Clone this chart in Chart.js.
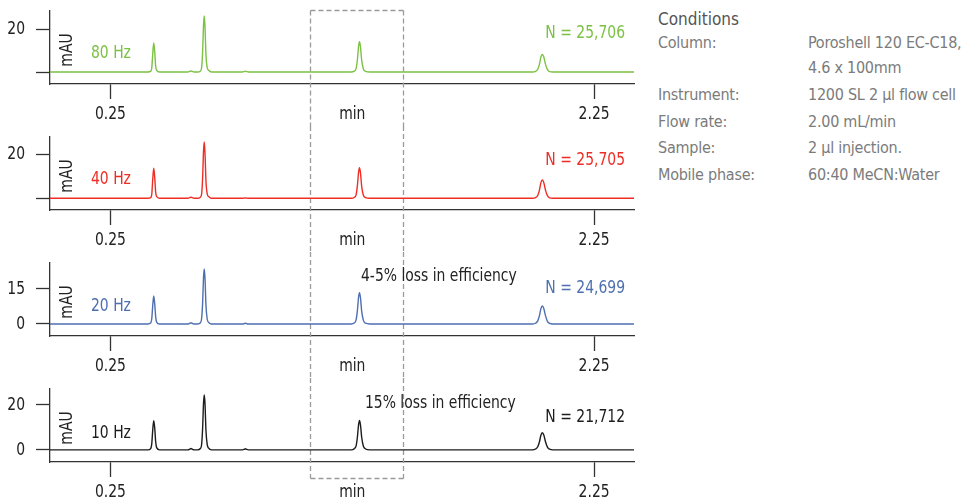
<!DOCTYPE html>
<html>
<head>
<meta charset="utf-8">
<title>Chromatograms at different data rates</title>
<script src="https://cdn.jsdelivr.net/npm/chart.js@4.4.1/dist/chart.umd.min.js"></script>
<style>
  html, body { margin: 0; padding: 0; background: #fff; width: 964px; height: 501px; overflow: hidden; }
  canvas.panel { position: absolute; left: 0; }
  .cond { position: absolute; font-family: 'DejaVu Sans Condensed', 'DejaVu Sans', sans-serif;
          font-size: 16px; line-height: 20px; color: #7b7b7b; white-space: nowrap; letter-spacing: -0.25px; }
  .cond.head { color: #555; font-size: 17px; letter-spacing: 0; }
</style>
</head>
<body>
<canvas id="p80" class="panel" width="640" height="126" style="top:0px"></canvas>
<canvas id="p40" class="panel" width="640" height="126" style="top:126px"></canvas>
<canvas id="p20" class="panel" width="640" height="126" style="top:252px"></canvas>
<canvas id="p10" class="panel" width="640" height="126" style="top:378px"></canvas>

<div class="cond head" style="left:658px;top:9px">Conditions</div>
<div class="cond" style="left:658px;top:33px">Column:</div>
<div class="cond" style="left:808px;top:33px">Poroshell 120 EC-C18,</div>
<div class="cond" style="left:808px;top:58px">4.6 x 100mm</div>
<div class="cond" style="left:658px;top:85px">Instrument:</div>
<div class="cond" style="left:808px;top:85px">1200 SL 2 µl flow cell</div>
<div class="cond" style="left:658px;top:112px">Flow rate:</div>
<div class="cond" style="left:808px;top:112px">2.00 mL/min</div>
<div class="cond" style="left:658px;top:138px">Sample:</div>
<div class="cond" style="left:808px;top:138px">2 µl injection.</div>
<div class="cond" style="left:658px;top:165px">Mobile phase:</div>
<div class="cond" style="left:808px;top:165px">60:40 MeCN:Water</div>

<script>
// Retention time grid (min) shared by all four traces
const minutes = [
  0.000,
  0.405, 0.417, 0.421, 0.425, 0.429, 0.433, 0.437, 0.441, 0.453,
  0.570, 0.578, 0.583, 0.588, 0.596,
  0.610, 0.622, 0.627, 0.631, 0.635, 0.638, 0.641, 0.645, 0.650, 0.656, 0.668,
  0.795, 0.803, 0.808, 0.813, 0.821,
  1.245, 1.258, 1.266, 1.271, 1.276, 1.280, 1.284, 1.289, 1.296, 1.305, 1.322,
  1.995, 2.008, 2.017, 2.024, 2.030, 2.036, 2.042, 2.049, 2.057, 2.066, 2.080,
  2.415
];

// Detector response (mAU) at each data rate
const mau80 = [
  0,
  0, 0.4, 2.0, 8.8, 13.6, 9.5, 2.7, 0.8, 0,
  0, 0.3, 0.5, 0.3, 0,
  0, 0.5, 2.1, 9.1, 22.2, 26.1, 20.9, 7.8, 2.1, 0.8, 0,
  0, 0.2, 0.4, 0.2, 0,
  0, 0.4, 1.7, 5.6, 12.0, 14.1, 11.6, 5.4, 1.4, 0.3, 0,
  0, 0.3, 1.3, 3.7, 7.0, 8.2, 7.0, 3.7, 1.1, 0.2, 0,
  0
];
const mau40 = [
  0,
  0, 0.4, 2.0, 8.8, 13.6, 9.5, 2.7, 0.8, 0,
  0, 0.3, 0.5, 0.3, 0,
  0, 0.5, 2.0, 8.9, 21.7, 25.5, 20.4, 7.7, 2.0, 0.8, 0,
  0, 0.1, 0.2, 0.1, 0,
  0, 0.4, 1.7, 5.6, 11.8, 13.9, 11.4, 5.3, 1.4, 0.3, 0,
  0, 0.3, 1.3, 3.7, 7.1, 8.3, 7.1, 3.7, 1.2, 0.2, 0,
  0
];
const mau20 = [
  0,
  0, 0.5, 2.4, 8.0, 11.8, 8.6, 3.0, 0.8, 0,
  0, 0.3, 0.5, 0.3, 0,
  0, 0.5, 2.3, 8.6, 20.0, 23.3, 19.3, 7.9, 2.1, 0.7, 0,
  0, 0.1, 0.3, 0.1, 0,
  0, 0.4, 1.8, 5.5, 11.3, 13.2, 11.0, 5.3, 1.5, 0.3, 0,
  0, 0.3, 1.3, 3.5, 6.5, 7.6, 6.5, 3.5, 1.1, 0.2, 0,
  0
];
const mau10 = [
  0,
  0, 0.7, 2.9, 9.1, 13.0, 9.8, 3.6, 1.0, 0,
  0, 0.3, 0.6, 0.3, 0,
  0, 0.6, 2.4, 9.3, 21.0, 24.4, 20.5, 8.5, 2.4, 0.8, 0,
  0, 0.2, 0.5, 0.2, 0,
  0, 0.5, 1.9, 5.5, 11.1, 13.1, 11.0, 5.5, 1.6, 0.4, 0,
  0, 0.4, 1.4, 3.6, 6.5, 7.6, 6.6, 3.6, 1.2, 0.3, 0,
  0
];

// Axis ticks and labels
const xTickValues = [0.25, 1.25, 2.25];
const xTickLabels = ['0.25', 'min', '2.25'];
const rateLabels = ['80 Hz', '40 Hz', '20 Hz', '10 Hz'];
const plateLabels = ['N = 25,706', 'N = 25,705', 'N = 24,699', 'N = 21,712'];
const yTickValues = [[0, 20], [0, 20], [0, 15], [0, 20]];
const yTickLabels = [['', '20'], ['', '20'], ['0', '15'], ['0', '20']];
const efficiencyNotes = [null, null, '4-5% loss in efficiency', '15% loss in efficiency'];
const highlightWindow = [1.076, 1.461]; // min

const FONT = "'DejaVu Sans Condensed', 'DejaVu Sans', sans-serif";
const SQUEEZE = 0.86;   // horizontal compression for a narrow typeface look
const INK = '#222';
Chart.defaults.font.family = FONT;

const panels = [
  { id: 'p80', values: mau80, color: '#7bc143', yMin: -5.6, yMax: 28.7, nY: 22.5, rateY: 42.5, noteY: 0, boxTop: true,  boxBottom: null },
  { id: 'p40', values: mau40, color: '#ee2d24', yMin: -5.3, yMax: 28.0, nY: 24.3, rateY: 42.8, noteY: 0, boxTop: false, boxBottom: null },
  { id: 'p20', values: mau20, color: '#4e6fb0', yMin: -5.1, yMax: 26.0, nY: 25.6, rateY: 44.2, noteY: 13.5, noteX: 361, boxTop: false, boxBottom: null },
  { id: 'p10', values: mau10, color: '#1c1c1c', yMin: -5.4, yMax: 27.3, nY: 28.4, rateY: 44.6, noteY: 15.0, noteX: 365, boxTop: false, boxBottom: 100 }
];

function narrowText(ctx, text, x, y, align, color, rotate) {
  ctx.save();
  ctx.font = '18px ' + FONT;
  ctx.fillStyle = color;
  ctx.textAlign = align;
  ctx.textBaseline = 'middle';
  ctx.translate(x, y);
  if (rotate) ctx.rotate(rotate);
  ctx.scale(SQUEEZE, 1);
  ctx.fillText(text, 0, 0);
  ctx.restore();
}

// Dashed window, tick labels, rate / plate-count labels and the rotated unit label
const panelDecor = {
  id: 'panelDecor',
  beforeDatasetsDraw(chart, args, opts) {
    const ctx = chart.ctx;
    const xs = chart.scales.x;
    const xl = Math.round(xs.getPixelForValue(highlightWindow[0])) + 0.5;
    const xr = Math.round(xs.getPixelForValue(highlightWindow[1])) + 0.5;
    const top = opts.boxTop ? 10.5 : 0;
    const bottom = opts.boxBottom != null ? opts.boxBottom + 0.5 : chart.height;
    ctx.save();
    ctx.strokeStyle = '#9a9a9a';
    ctx.lineWidth = 1.3;
    ctx.setLineDash([5, 3]);
    ctx.beginPath();
    ctx.moveTo(xl, top); ctx.lineTo(xl, bottom);
    ctx.moveTo(xr, top); ctx.lineTo(xr, bottom);
    if (opts.boxTop) { ctx.moveTo(xl, top); ctx.lineTo(xr, top); }
    if (opts.boxBottom != null) { ctx.moveTo(xl, bottom); ctx.lineTo(xr, bottom); }
    ctx.stroke();
    ctx.restore();
  },
  afterDraw(chart, args, opts) {
    const ctx = chart.ctx;
    const a = chart.chartArea;
    const xs = chart.scales.x, ys = chart.scales.y;
    // axis tick labels
    xTickValues.forEach((v, k) => narrowText(ctx, xTickLabels[k], xs.getPixelForValue(v), a.bottom + 30.5, 'center', INK));
    opts.yTicks.forEach((v, k) => narrowText(ctx, opts.yLabels[k], 25, ys.getPixelForValue(v) + 0.5, 'right', INK));
    // data rate and plate count
    narrowText(ctx, opts.rate, 91, a.top + opts.rateY, 'left', opts.color);
    narrowText(ctx, opts.plates, a.right - 9, a.top + opts.nY, 'right', opts.color);
    // efficiency note
    if (opts.note) narrowText(ctx, opts.note, opts.noteX, a.top + opts.noteY, 'left', INK);
    // unit label
    narrowText(ctx, 'mAU', 67.5, a.top + 39.5, 'center', INK, -Math.PI / 2);
  }
};

panels.forEach((p, i) => {
  new Chart(document.getElementById(p.id), {
    type: 'line',
    data: {
      datasets: [{
        data: minutes.map((t, k) => ({ x: t, y: p.values[k] })),
        borderColor: p.color,
        borderWidth: 1.4,
        pointRadius: 0,
        fill: false,
        cubicInterpolationMode: 'monotone'
      }]
    },
    plugins: [panelDecor],
    options: {
      responsive: false,
      animation: false,
      devicePixelRatio: 1,
      layout: { padding: { top: 10.5, right: 6, left: 0, bottom: 0 } },
      plugins: {
        legend: { display: false },
        tooltip: { enabled: false },
        panelDecor: {
          color: p.color, rate: rateLabels[i], plates: plateLabels[i],
          note: efficiencyNotes[i], noteX: p.noteX, noteY: p.noteY,
          nY: p.nY, rateY: p.rateY, boxTop: p.boxTop, boxBottom: p.boxBottom,
          yTicks: yTickValues[i], yLabels: yTickLabels[i]
        }
      },
      scales: {
        x: {
          type: 'linear',
          min: 0,
          max: 2.415,
          afterBuildTicks: s => { s.ticks = xTickValues.map(v => ({ value: v })); },
          afterFit: s => { s.height = 42; s.paddingLeft = 0; s.paddingRight = 0; },
          ticks: { display: false },
          grid: {
            drawOnChartArea: false, tickLength: 15, tickWidth: 1.3,
            tickColor: c => (c.tick && c.tick.value === 1.25) ? 'rgba(0,0,0,0)' : '#333'
          },
          border: { color: '#333', width: 1.3 }
        },
        y: {
          type: 'linear',
          min: p.yMin,
          max: p.yMax,
          afterBuildTicks: s => { s.ticks = yTickValues[i].map(v => ({ value: v })); },
          afterFit: s => { s.width = 50; s.paddingTop = 0; s.paddingBottom = 0; },
          ticks: { display: false },
          grid: { drawOnChartArea: false, tickLength: 14, tickWidth: 1.3, tickColor: '#333' },
          border: { color: '#333', width: 1.3 }
        }
      }
    }
  });
});
</script>
</body>
</html>
